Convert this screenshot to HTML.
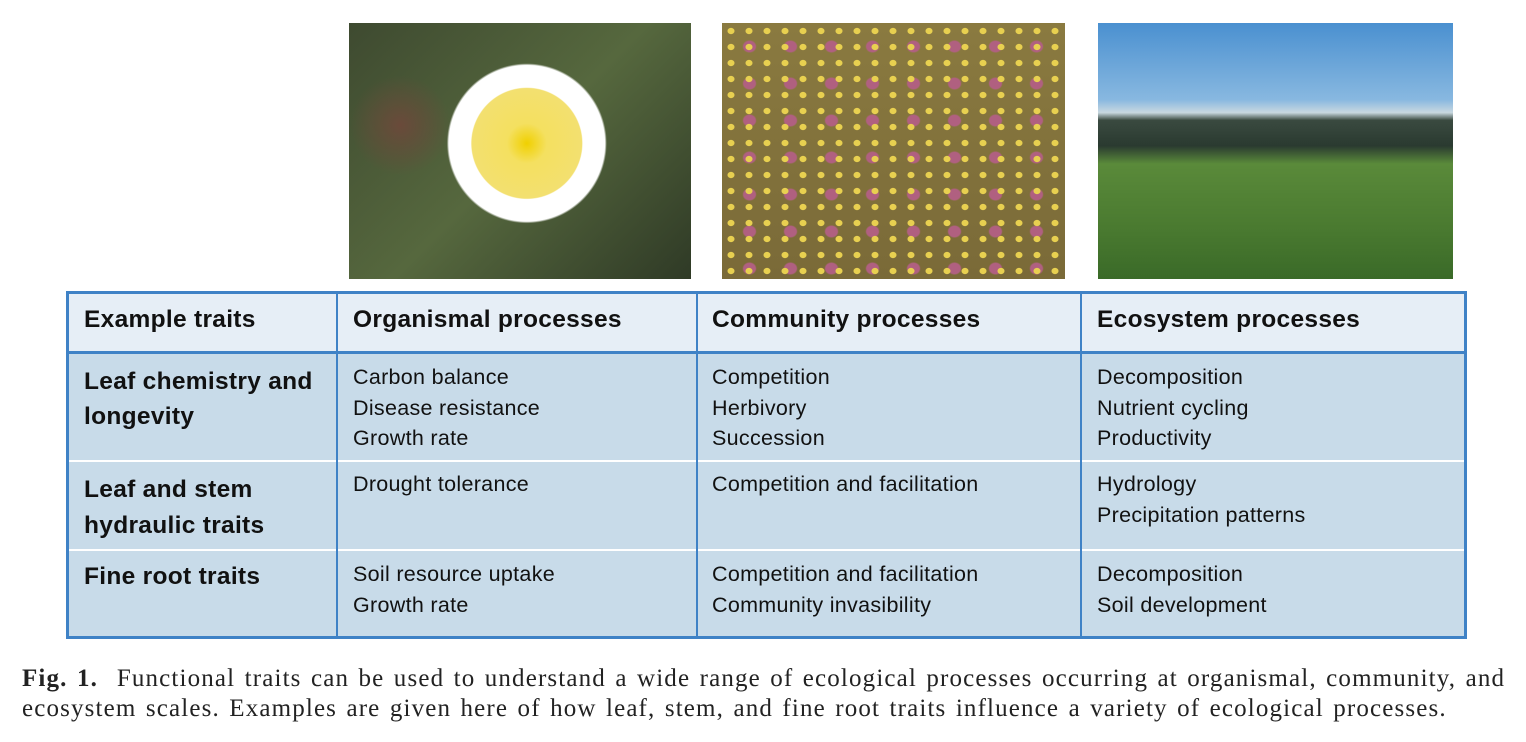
<!DOCTYPE html>
<html><head><meta charset="utf-8"><style>
body{margin:0;width:1526px;height:742px;background:#fff;position:relative;overflow:hidden;font-family:"Liberation Sans",sans-serif}
.img{position:absolute;top:23px;height:256px}
.cell{position:absolute;box-sizing:border-box;padding:0 0 0 15px;color:#111;white-space:nowrap}
.h{font-weight:bold;font-size:24.5px;line-height:30px;letter-spacing:0.3px}
.b{font-size:21.5px;line-height:30.5px;letter-spacing:0.3px}
.ln{position:absolute;background:#3f82c6}
.cap{position:absolute;left:22px;top:664px;font-family:"Liberation Serif",serif;font-size:25px;letter-spacing:1.15px;word-spacing:2px;line-height:30px;color:#222;white-space:nowrap}
</style></head><body>
<div class="img" style="left:349px;width:342px;background:radial-gradient(circle at 52% 47%,#f0d000 0,#f4e060 20px,#f3e070 55px,#fff 56px,#fff 78px,transparent 80px),radial-gradient(circle at 15% 40%,#6a4a3a 0,transparent 50px),linear-gradient(135deg,#3e4a30,#56683e 50%,#2f3a26)"></div>
<div class="img" style="left:722px;width:343px;background:radial-gradient(#e8d050 25%,transparent 30%) 0 0/18px 16px,radial-gradient(#b06080 20%,transparent 25%) 7px 5px/41px 37px,linear-gradient(#8a7a40,#7a6a38)"></div>
<div class="img" style="left:1098px;width:355px;background:linear-gradient(to bottom,#4a90d0 0,#88b8e0 30%,#c8d8e0 35%,#3a4a40 38%,#2a3a30 48%,#5a8a3a 55%,#4a7a30 80%,#3a6a28 100%)"></div>

<div style="position:absolute;left:67px;top:292px;width:1399px;height:60px;background:#e6eef6"></div>
<div style="position:absolute;left:67px;top:352px;width:1399px;height:286px;background:#c8dbe9"></div>
<div class="ln" style="left:67px;top:291px;width:1400px;height:3px"></div>
<div class="ln" style="left:67px;top:351px;width:1400px;height:3px"></div>
<div class="ln" style="left:67px;top:460px;width:1400px;height:2px;background:#fff"></div>
<div class="ln" style="left:67px;top:549px;width:1400px;height:2px;background:#fff"></div>
<div class="ln" style="left:67px;top:636px;width:1400px;height:3px"></div>
<div class="ln" style="left:66px;top:291px;width:3px;height:348px"></div>
<div class="ln" style="left:336px;top:291px;width:2px;height:348px"></div>
<div class="ln" style="left:696px;top:291px;width:2px;height:348px"></div>
<div class="ln" style="left:1080px;top:291px;width:2px;height:348px"></div>
<div class="ln" style="left:1464px;top:291px;width:3px;height:348px"></div>

<div class="cell h" style="left:69px;top:305px">Example traits</div>
<div class="cell h" style="left:338px;top:305px">Organismal processes</div>
<div class="cell h" style="left:697px;top:305px">Community processes</div>
<div class="cell h" style="left:1082px;top:305px">Ecosystem processes</div>

<div class="cell h" style="left:69px;top:364px;line-height:35px">Leaf chemistry and<br>longevity</div>
<div class="cell b" style="left:338px;top:362px">Carbon balance<br>Disease resistance<br>Growth rate</div>
<div class="cell b" style="left:697px;top:362px">Competition<br>Herbivory<br>Succession</div>
<div class="cell b" style="left:1082px;top:362px">Decomposition<br>Nutrient cycling<br>Productivity</div>

<div class="cell h" style="left:69px;top:472px;line-height:36px">Leaf and stem<br>hydraulic traits</div>
<div class="cell b" style="left:338px;top:469px">Drought tolerance</div>
<div class="cell b" style="left:697px;top:469px">Competition and facilitation</div>
<div class="cell b" style="left:1082px;top:469px">Hydrology<br>Precipitation patterns</div>

<div class="cell h" style="left:69px;top:562px">Fine root traits</div>
<div class="cell b" style="left:338px;top:559px">Soil resource uptake<br>Growth rate</div>
<div class="cell b" style="left:697px;top:559px">Competition and facilitation<br>Community invasibility</div>
<div class="cell b" style="left:1082px;top:559px">Decomposition<br>Soil development</div>

<div class="cap"><b>Fig. 1.</b>&nbsp; Functional traits can be used to understand a wide range of ecological processes occurring at organismal, community, and<br>ecosystem scales. Examples are given here of how leaf, stem, and fine root traits influence a variety of ecological processes.</div>
</body></html>
